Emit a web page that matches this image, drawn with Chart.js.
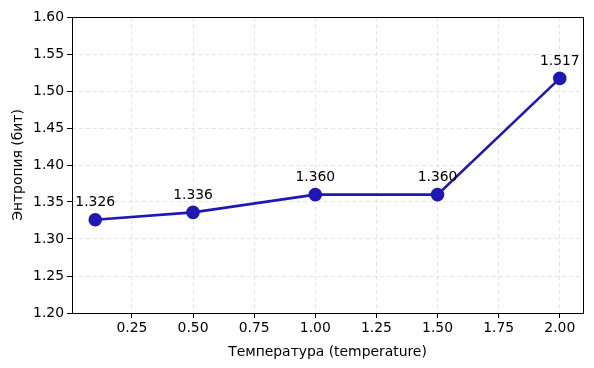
<!DOCTYPE html>
<html>
<head>
<meta charset="utf-8">
<script src="https://cdn.jsdelivr.net/npm/chart.js@4/dist/chart.umd.min.js"></script>
<style>
  html, body { margin: 0; padding: 0; background: #fff; }
  #wrap { width: 594px; height: 368px; }
</style>
</head>
<body>
<div id="wrap"><canvas id="chart" width="594" height="368"></canvas></div>
<script>
const temperatures = [0.1, 0.5, 1.0, 1.5, 2.0];
const entropy = [1.326, 1.336, 1.360, 1.360, 1.517];
const xTicks = [0.25, 0.5, 0.75, 1.0, 1.25, 1.5, 1.75, 2.0];
const yTicks = [1.2, 1.25, 1.3, 1.35, 1.4, 1.45, 1.5, 1.55, 1.6];

const lineColor = "#1f18b3";
const font = { family: "DejaVu Sans", size: 13.9 };

const frame = {
  id: "frame",
  afterDraw(chart) {
    const { ctx, chartArea: a } = chart;
    ctx.save();
    ctx.strokeStyle = "#000";
    ctx.lineWidth = 1;
    ctx.strokeRect(a.left + 0.5, a.top + 0.5, a.right - a.left, a.bottom - a.top);
    ctx.restore();
  }
};

const pointLabels = {
  id: "pointLabels",
  afterDatasetsDraw(chart) {
    const { ctx } = chart;
    const meta = chart.getDatasetMeta(0);
    ctx.save();
    ctx.font = "13.9px 'DejaVu Sans'";
    ctx.fillStyle = "#000";
    ctx.textAlign = "center";
    ctx.textBaseline = "middle";
    meta.data.forEach((pt, i) => {
      ctx.fillText(entropy[i].toFixed(3), pt.x, pt.y - 17);
    });
    ctx.restore();
  }
};

const gridStyle = {
  color: "rgba(170,170,170,0.3)",
  tickColor: "#000",
  tickBorderDash: [],
  tickWidth: 1,
  tickLength: 5
};

new Chart(document.getElementById("chart"), {
  type: "line",
  data: {
    datasets: [
      {
        data: temperatures.map((t, i) => ({ x: t, y: entropy[i] })),
        borderColor: lineColor,
        backgroundColor: lineColor,
        borderWidth: 2.6,
        pointRadius: 5.5,
        pointBackgroundColor: lineColor,
        pointBorderColor: lineColor,
        tension: 0
      }
    ]
  },
  options: {
    responsive: false,
    animation: false,
    layout: { padding: { top: 17, right: 11, left: 0, bottom: 0 } },
    plugins: {
      legend: { display: false },
      tooltip: { enabled: false }
    },
    scales: {
      x: {
        type: "linear",
        min: 0.005,
        max: 2.095,
        afterBuildTicks: (axis) => { axis.ticks = xTicks.map((v) => ({ value: v })); },
        afterFit: (axis) => { axis.height = 55; },
        ticks: {
          color: "#000",
          font,
          padding: 2,
          maxRotation: 0,
          callback: (v) => v.toFixed(2)
        },
        grid: gridStyle,
        border: { display: false, dash: [4, 3] },
        title: {
          display: true,
          text: "Температура (temperature)",
          color: "#000",
          font,
          padding: { top: 3, bottom: 7 }
        }
      },
      y: {
        min: 1.2,
        max: 1.6,
        afterBuildTicks: (axis) => { axis.ticks = yTicks.map((v) => ({ value: v })); },
        afterFit: (axis) => { axis.width = 72; },
        ticks: {
          color: "#000",
          font,
          padding: 3,
          callback: (v) => v.toFixed(2)
        },
        grid: gridStyle,
        border: { display: false, dash: [4, 3] },
        title: {
          display: true,
          text: "Энтропия (бит)",
          color: "#000",
          font,
          padding: { top: 10, bottom: 4 }
        }
      }
    }
  },
  plugins: [frame, pointLabels]
});
</script>
</body>
</html>
